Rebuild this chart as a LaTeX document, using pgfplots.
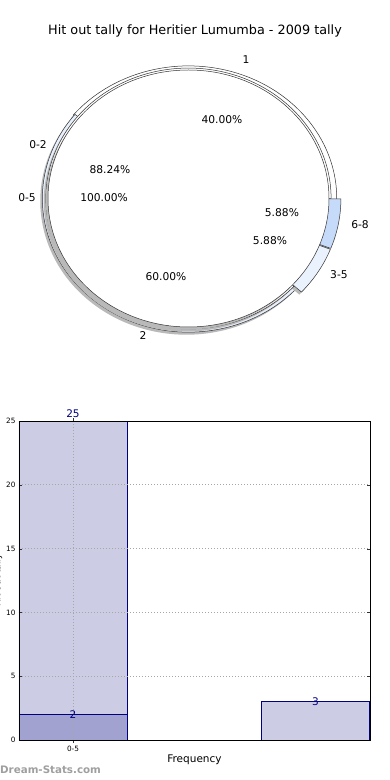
\documentclass[border=0pt]{standalone}
\usepackage{pgfplots}
\pgfplotsset{compat=1.18}
\usepackage{fontspec}
\setmainfont{DejaVu Sans}
\definecolor{ring68}{RGB}{198,218,250}
\definecolor{ring35}{RGB}{234,242,254}
\definecolor{ringtwo}{RGB}{232,240,252}
\definecolor{barlight}{RGB}{204,204,228}
\definecolor{bardark}{RGB}{162,162,208}
\definecolor{navy}{RGB}{0,0,128}
% wedge: start, end, x radius, y radius, explode, dx, dy, style
\newcommand{\pwedge}[8]{%
  \filldraw[#8] (axis cs:{#6+#5*cos((#1+#2)/2)},{#7+#5*sin((#1+#2)/2)})
    -- (axis cs:{#6+#5*cos((#1+#2)/2)+#3*cos(#1)},{#7+#5*sin((#1+#2)/2)+#4*sin(#1)})
    arc[start angle=#1,end angle=#2,x radius=#3,y radius=#4] -- cycle;}
\begin{document}
\begin{tikzpicture}[x=1pt,y=1pt]
\useasboundingbox (0,0) rectangle (390,780);
\clip (0,0) rectangle (390,780);
\node at (195pt,749pt) {\fontsize{12.8}{14}\selectfont Hit out tally for Heritier Lumumba - 2009 tally};
% ---------------- pie ----------------
\begin{axis}[at={(188.5pt,581.5pt)}, anchor=center, width=281pt, height=257pt,
  scale only axis, xmin=-1, xmax=1, ymin=-1, ymax=1, hide axis, clip=false]
% outer level: 1 (40%), 2 (60%)
\pwedge{-3}{141}{1.055}{1.032}{0}{-0.015}{-0.02}{gray!55, draw=none}
\pwedge{141}{357}{1.04}{1.04}{0}{-0.015}{-0.02}{gray!55, draw=none}
\pwedge{-3}{141}{1.055}{1.032}{0}{0}{0}{fill=white, draw=black!80, line width=0.5pt}
\pwedge{141}{357}{1.04}{1.04}{0}{0}{0}{fill=ringtwo, draw=black!80, line width=0.5pt}
% middle level: 0-2 (88.24%), 3-5 (5.88%), 6-8 (5.88%)
\pwedge{0}{317.65}{1.015}{1.015}{0}{-0.015}{-0.02}{gray!55, draw=none}
\pwedge{317.65}{338.82}{1.065}{1.065}{0.02}{-0.015}{-0.02}{gray!55, draw=none}
\pwedge{338.82}{360}{1.065}{1.065}{0.02}{-0.015}{-0.02}{gray!55, draw=none}
\pwedge{0}{317.65}{1.015}{1.015}{0}{0}{0}{fill=white, draw=black!80, line width=0.5pt}
\pwedge{317.65}{338.82}{1.065}{1.065}{0.02}{0}{0}{fill=ring35, draw=black!80, line width=0.5pt}
\pwedge{338.82}{360}{1.065}{1.065}{0.02}{0}{0}{fill=ring68, draw=black!80, line width=0.5pt}
% inner level: 0-5 (100%)
\fill[gray!55] (axis cs:-0.015,-0.02) circle[radius=1];
\filldraw[fill=white, draw=black!80, line width=0.5pt] (axis cs:0,0) circle[radius=1];
% labels
\begin{scope}[font=\fontsize{10.7}{12}\selectfont]
\node at (axis cs:0.409,1.078) {1};
\node at (axis cs:-0.324,-1.070) {2};
\node at (axis cs:-1.071,0.416) {0-2};
\node at (axis cs:-1.149,0.004) {0-5};
\node at (axis cs:1.221,-0.206) {6-8};
\node at (axis cs:1.071,-0.595) {3-5};
\node at (axis cs:0.238,0.611) {40.00\%};
\node at (axis cs:-0.160,-0.611) {60.00\%};
\node at (axis cs:-0.559,0.222) {88.24\%};
\node at (axis cs:-0.601,0.004) {100.00\%};
\node at (axis cs:0.665,-0.113) {5.88\%};
\node at (axis cs:0.580,-0.331) {5.88\%};
\end{scope}
\end{axis}
% ---------------- bars ----------------
\begin{axis}[at={(19pt,40pt)}, anchor=south west, width=351pt, height=319pt,
  scale only axis, xmin=-0.5, xmax=2.75, ymin=0, ymax=25,
  ytick={0,5,10,15,20,25}, xtick={0}, xticklabels={0-5},
  /pgf/number format/assume math mode=true,
  ticklabel style={font=\fontsize{7.3}{8}\selectfont},
  tick align=inside, major tick length=3pt, tick style={black!80},
  xmajorgrids, ymajorgrids, grid style={dash pattern=on 1pt off 2pt, gray!70, line width=0.7pt},
  axis line style={black, line width=0.8pt},
  xlabel={Frequency}, xlabel style={font=\fontsize{10.5}{12}\selectfont, at={(0.5,0)}, anchor=center, yshift=-20pt},
  ylabel={Hit out tally}, ylabel style={font=\fontsize{9}{11}\selectfont, at={(0,0.5)}, anchor=center, yshift=21pt},
  ybar, bar width=1, bar shift=0pt, axis on top=true, clip=false]
\addplot[fill=barlight, draw=navy, line width=0.6pt] coordinates {(0,25) (2.245,3)};
\addplot[fill=bardark, draw=navy, line width=0.6pt] coordinates {(0,2)};
\node[text=navy, font=\fontsize{10.5}{12}\selectfont, anchor=south, inner sep=1pt] at (axis cs:0,25.2) {25};
\node[text=navy, font=\fontsize{10.5}{12}\selectfont] at (axis cs:0,2) {2};
\node[text=navy, font=\fontsize{10.5}{12}\selectfont] at (axis cs:2.245,3) {3};
\end{axis}
\node[anchor=west, text=gray!75, font=\bfseries\fontsize{10.3}{11}\selectfont, inner sep=0pt] at (0pt,10pt) {Dream-Stats.com};
\end{tikzpicture}
\end{document}
